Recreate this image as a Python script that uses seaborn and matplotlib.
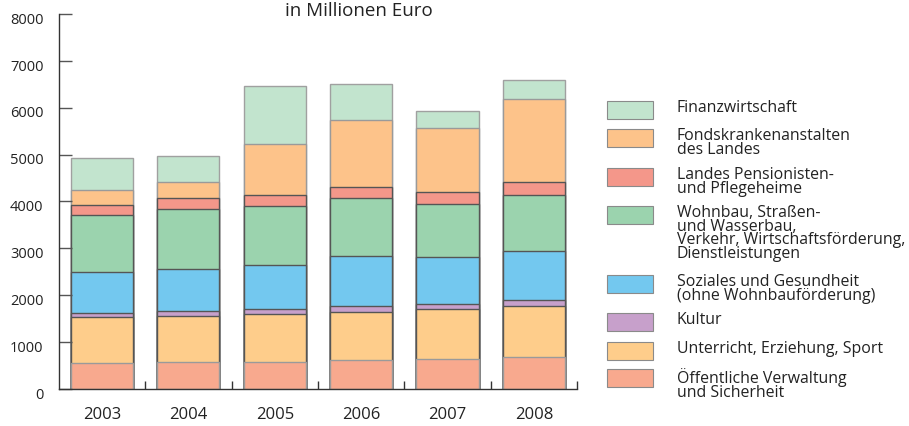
import matplotlib
matplotlib.use('Agg')
import numpy as np
import pandas as pd
import matplotlib.pyplot as plt
import seaborn as sns
from matplotlib.patches import Rectangle
from matplotlib.transforms import ScaledTranslation

# Jahre und Ausgaben je Bereich (Mio. Euro), von unten nach oben gestapelt
years = ['2003', '2004', '2005', '2006', '2007', '2008']
verwaltung = [550, 570, 585, 610, 645, 675]
unterricht = [980, 990, 1010, 1040, 1060, 1100]
kultur = [85, 95, 105, 130, 115, 120]
soziales = [875, 915, 950, 1050, 990, 1050]
wohnbau = [1225, 1280, 1260, 1240, 1145, 1200]
pension = [205, 230, 235, 235, 255, 280]
fonds = [330, 340, 1075, 1430, 1350, 1770]
finanz = [675, 555, 1245, 770, 365, 400]

labels = [
    'Öffentliche Verwaltung\nund Sicherheit',
    'Unterricht, Erziehung, Sport',
    'Kultur',
    'Soziales und Gesundheit\n(ohne Wohnbauförderung)',
    'Wohnbau, Straßen-\nund Wasserbau,\nVerkehr, Wirtschaftsförderung,\nDienstleistungen',
    'Landes Pensionisten-\nund Pflegeheime',
    'Fondskrankenanstalten\ndes Landes',
    'Finanzwirtschaft',
]
colors = ['#F8A98E', '#FECD8B', '#C7A0CB', '#73C8EF', '#9BD3AE', '#F4978A', '#FDC38A', '#C2E4CE']
edges = ['#9a9a9a', '#555555', '#555555', '#555555', '#555555', '#555555', '#9a9a9a', '#a0a0a0']

series = [verwaltung, unterricht, kultur, soziales, wohnbau, pension, fonds, finanz]
cum = np.cumsum(np.array(series), axis=0)

plt.rcParams['font.family'] = ['Open Sans', 'DejaVu Sans']

fig = plt.figure(figsize=(9.09, 4.26), dpi=100)
ax = fig.add_axes([0.0646, 0.0869, 0.5704, 0.8802])

# gestapelte Balken: von oben nach unten übereinander zeichnen
for i in range(len(series) - 1, -1, -1):
    df = pd.DataFrame({'year': years, 'value': cum[i]})
    sns.barplot(data=df, x='year', y='value', color=colors[i], edgecolor=edges[i],
                linewidth=1.0, width=0.72, saturation=1, ax=ax)

ax.set_xlim(-0.5, 5.5)
ax.set_ylim(0, 8000)
ax.set_yticks(range(0, 8001, 1000))
ax.set_xlabel('')
ax.set_ylabel('')
for s in ['top', 'right']:
    ax.spines[s].set_visible(False)
for s in ['left', 'bottom']:
    ax.spines[s].set_color('#333333')
    ax.spines[s].set_linewidth(1.0)

ax.tick_params(axis='y', direction='in', length=9.5, width=1, color='#555555',
               labelsize=10.5, labelcolor='#222222', pad=11)
ax.tick_params(axis='x', length=0, labelsize=12, labelcolor='#222222', pad=13)
ax.set_xticks(np.arange(0.5, 5.6, 1.0), minor=True)
ax.tick_params(axis='x', which='minor', direction='in', length=6, width=1, color='#333333')
for lab in ax.get_yticklabels():
    lab.set_transform(lab.get_transform() + ScaledTranslation(0, -3 / 72, fig.dpi_scale_trans))

fig.text(0.395, 1 - 16 / 426, 'in Millionen Euro', ha='center', va='baseline',
         fontsize=13.5, color='#222222')

# Legende rechts, von oben nach unten
W, H = 909, 426
patch_top = [101, 129, 168, 206, 275, 313, 342, 369]
order = list(range(len(series) - 1, -1, -1))
for top, i in zip(patch_top, order):
    fig.patches.append(Rectangle((607 / W, 1 - (top + 18) / H), 46 / W, 18 / H,
                                 transform=fig.transFigure, facecolor=colors[i],
                                 edgecolor='#8a8a8a', linewidth=0.8))
    fig.text(677 / W, 1 - (top - 1) / H, labels[i], ha='left', va='top',
             fontsize=11.4, linespacing=0.8, color='#222222')

fig.savefig('out.png', dpi=100)
